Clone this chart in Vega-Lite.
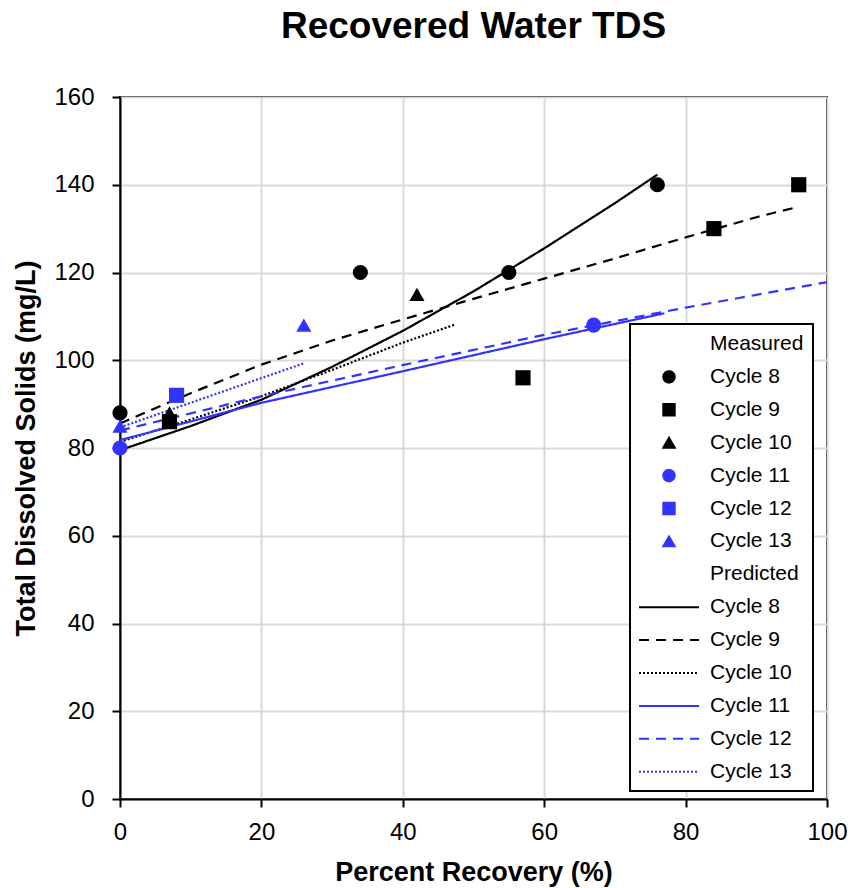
{
  "$schema": "https://vega.github.io/schema/vega-lite/v6.json",
  "width": 707,
  "height": 702,
  "autosize": {"type": "none"},
  "padding": {"left": 120, "top": 97, "right": 26, "bottom": 89},
  "background": "white",
  "title": {"text": "Recovered Water TDS", "font": "Liberation Sans", "fontSize": 37, "fontWeight": "bold", "color": "black", "anchor": "middle", "offset": 39},
  "config": {
    "view": {"stroke": "black", "strokeWidth": 2},
    "axis": {"labelFont": "Liberation Sans", "titleFont": "Liberation Sans", "labelColor": "black", "titleColor": "black", "domainColor": "black", "domainWidth": 2, "tickColor": "black", "tickWidth": 2, "tickSize": 8, "gridColor": "#d9d9d9", "gridWidth": 2, "labelFontSize": 24, "titleFontSize": 27, "titleFontWeight": "bold", "labelFlush": false}
  },
  "datasets": {
    "measured": [
      {"series": "Measured Cycle 8", "recovery": 0, "tds": 88},
      {"series": "Measured Cycle 8", "recovery": 34, "tds": 120},
      {"series": "Measured Cycle 8", "recovery": 55, "tds": 120},
      {"series": "Measured Cycle 8", "recovery": 76, "tds": 140},
      {"series": "Measured Cycle 9", "recovery": 7, "tds": 86},
      {"series": "Measured Cycle 9", "recovery": 57, "tds": 96},
      {"series": "Measured Cycle 9", "recovery": 84, "tds": 130},
      {"series": "Measured Cycle 9", "recovery": 96, "tds": 140},
      {"series": "Measured Cycle 10", "recovery": 7, "tds": 88},
      {"series": "Measured Cycle 10", "recovery": 42, "tds": 115},
      {"series": "Measured Cycle 11", "recovery": 0, "tds": 80},
      {"series": "Measured Cycle 11", "recovery": 67, "tds": 108},
      {"series": "Measured Cycle 12", "recovery": 8, "tds": 92},
      {"series": "Measured Cycle 13", "recovery": 0, "tds": 85},
      {"series": "Measured Cycle 13", "recovery": 26, "tds": 108}
    ],
    "predicted": [
      {"series": "Predicted Cycle 8", "recovery": 0, "tds": 79.5},
      {"series": "Predicted Cycle 8", "recovery": 10, "tds": 85},
      {"series": "Predicted Cycle 8", "recovery": 20, "tds": 91},
      {"series": "Predicted Cycle 8", "recovery": 30, "tds": 98.5},
      {"series": "Predicted Cycle 8", "recovery": 40, "tds": 106.7},
      {"series": "Predicted Cycle 8", "recovery": 50, "tds": 115.7},
      {"series": "Predicted Cycle 8", "recovery": 60, "tds": 125.5},
      {"series": "Predicted Cycle 8", "recovery": 70, "tds": 135.8},
      {"series": "Predicted Cycle 8", "recovery": 76, "tds": 142.3},
      {"series": "Predicted Cycle 9", "recovery": 0, "tds": 85.6},
      {"series": "Predicted Cycle 9", "recovery": 10, "tds": 92.5},
      {"series": "Predicted Cycle 9", "recovery": 20, "tds": 99},
      {"series": "Predicted Cycle 9", "recovery": 30, "tds": 104.5},
      {"series": "Predicted Cycle 9", "recovery": 40, "tds": 109.3},
      {"series": "Predicted Cycle 9", "recovery": 50, "tds": 114},
      {"series": "Predicted Cycle 9", "recovery": 60, "tds": 118.6},
      {"series": "Predicted Cycle 9", "recovery": 70, "tds": 123.2},
      {"series": "Predicted Cycle 9", "recovery": 80, "tds": 128},
      {"series": "Predicted Cycle 9", "recovery": 90, "tds": 132.6},
      {"series": "Predicted Cycle 9", "recovery": 96, "tds": 135},
      {"series": "Predicted Cycle 10", "recovery": 0, "tds": 81.4},
      {"series": "Predicted Cycle 10", "recovery": 10, "tds": 86.5},
      {"series": "Predicted Cycle 10", "recovery": 20, "tds": 91.8},
      {"series": "Predicted Cycle 10", "recovery": 30, "tds": 97.8},
      {"series": "Predicted Cycle 10", "recovery": 40, "tds": 104},
      {"series": "Predicted Cycle 10", "recovery": 47.5, "tds": 108.2},
      {"series": "Predicted Cycle 11", "recovery": 0, "tds": 81.8},
      {"series": "Predicted Cycle 11", "recovery": 20, "tds": 90.3},
      {"series": "Predicted Cycle 11", "recovery": 40, "tds": 97.5},
      {"series": "Predicted Cycle 11", "recovery": 60, "tds": 104.8},
      {"series": "Predicted Cycle 11", "recovery": 77, "tds": 110.7},
      {"series": "Predicted Cycle 12", "recovery": 0, "tds": 84},
      {"series": "Predicted Cycle 12", "recovery": 20, "tds": 91.8},
      {"series": "Predicted Cycle 12", "recovery": 40, "tds": 98.9},
      {"series": "Predicted Cycle 12", "recovery": 60, "tds": 105.8},
      {"series": "Predicted Cycle 12", "recovery": 80, "tds": 112},
      {"series": "Predicted Cycle 12", "recovery": 100, "tds": 117.8},
      {"series": "Predicted Cycle 13", "recovery": 0, "tds": 84.7},
      {"series": "Predicted Cycle 13", "recovery": 13, "tds": 92},
      {"series": "Predicted Cycle 13", "recovery": 26, "tds": 99.3}
    ]
  },
  "encoding": {
    "x": {"field": "recovery", "type": "quantitative", "title": "Percent Recovery (%)", "scale": {"domain": [0, 100], "nice": false}, "axis": {"values": [0, 20, 40, 60, 80, 100], "labelPadding": 13, "titlePadding": 15}},
    "y": {"field": "tds", "type": "quantitative", "title": "Total Dissolved Solids (mg/L)", "scale": {"domain": [0, 160], "nice": false}, "axis": {"values": [0, 20, 40, 60, 80, 100, 120, 140, 160], "labelPadding": 18, "titlePadding": 13}}
  },
  "layer": [
    {
      "data": {"name": "predicted"},
      "mark": {"type": "line", "strokeWidth": 2.2},
      "encoding": {
        "color": {
          "field": "series",
          "type": "nominal",
          "scale": {
            "domain": ["Measured", "Measured Cycle 8", "Measured Cycle 9", "Measured Cycle 10", "Measured Cycle 11", "Measured Cycle 12", "Measured Cycle 13", "Predicted", "Predicted Cycle 8", "Predicted Cycle 9", "Predicted Cycle 10", "Predicted Cycle 11", "Predicted Cycle 12", "Predicted Cycle 13"],
            "range": ["white", "black", "black", "black", "#3333ff", "#3333ff", "#3333ff", "white", "black", "black", "black", "#3333ff", "#3333ff", "#3333ff"]
          },
          "legend": {
            "title": null,
            "orient": "none",
            "legendX": 510,
            "legendY": 227,
            "padding": 9,
            "fillColor": "white",
            "strokeColor": "black",
            "labelFont": "Liberation Sans",
            "labelFontSize": 21,
            "labelColor": "black",
            "labelOffset": 10,
            "labelLimit": 0,
            "rowPadding": 11.9,
            "symbolSize": 400,
            "labelExpr": "replace(datum.label, regexp('^(Measured|Predicted) '), '')",
            "encode": {
              "symbols": {
                "update": {
                  "x": {"value": 30},
                  "shape": {"signal": "datum.index == 1 || datum.index == 4 ? 'circle' : datum.index == 2 || datum.index == 5 ? 'square' : datum.index == 3 || datum.index == 6 ? 'triangle-up' : 'M-3,0L3,0'"},
                  "size": {"signal": "datum.index < 7 ? 130 : 400"},
                  "fill": {"signal": "datum.index >= 1 && datum.index <= 3 ? 'black' : datum.index >= 4 && datum.index <= 6 ? '#3333ff' : 'transparent'"},
                  "stroke": {"signal": "datum.index >= 8 && datum.index <= 10 ? 'black' : datum.index >= 11 ? '#3333ff' : 'transparent'"},
                  "strokeDash": {"signal": "datum.index == 9 || datum.index == 12 ? [10, 7] : datum.index == 10 || datum.index == 13 ? [2, 2] : [1, 0]"},
                  "strokeWidth": {"value": 2},
                  "opacity": {"signal": "datum.index == 0 || datum.index == 7 ? 0 : 1"}
                }
              },
              "labels": {
                "update": {
                  "x": {"value": 71}
                }
              },
              "legend": {"update": {"strokeWidth": {"value": 2}}}
            }
          }
        },
        "strokeDash": {
          "field": "series",
          "type": "nominal",
          "scale": {
            "domain": ["Predicted Cycle 8", "Predicted Cycle 9", "Predicted Cycle 10", "Predicted Cycle 11", "Predicted Cycle 12", "Predicted Cycle 13"],
            "range": [[1, 0], [10, 7], [2, 2], [1, 0], [10, 7], [2, 2]]
          },
          "legend": null
        }
      }
    },
    {
      "data": {"name": "measured"},
      "mark": {"type": "point", "filled": true, "size": 230, "opacity": 1},
      "encoding": {
        "color": {"field": "series", "type": "nominal"},
        "shape": {
          "field": "series",
          "type": "nominal",
          "scale": {
            "domain": ["Measured Cycle 8", "Measured Cycle 9", "Measured Cycle 10", "Measured Cycle 11", "Measured Cycle 12", "Measured Cycle 13"],
            "range": ["circle", "square", "triangle-up", "circle", "square", "triangle-up"]
          },
          "legend": null
        }
      }
    }
  ]
}
